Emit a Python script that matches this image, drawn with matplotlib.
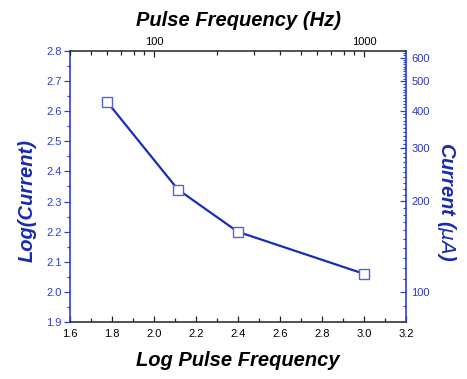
import numpy as np
import matplotlib
matplotlib.use("Agg")
import matplotlib.pyplot as plt
from matplotlib.ticker import FixedLocator, MultipleLocator, NullFormatter, FixedFormatter

# Data
log_freq = [1.778, 2.114, 2.398, 3.000]
log_current = [2.63, 2.34, 2.20, 2.06]

x_ticks = [1.6, 1.8, 2.0, 2.2, 2.4, 2.6, 2.8, 3.0, 3.2]
y_ticks = [1.9, 2.0, 2.1, 2.2, 2.3, 2.4, 2.5, 2.6, 2.7, 2.8]
top_ticks = [100, 1000]
right_ticks = [100, 200, 300, 400, 500, 600]

plt.rcParams['font.family'] = ['Liberation Sans', 'DejaVu Sans']

blue_axis = '#2a3fd8'
blue_label = '#1a2ab0'
line_col = '#1a2db8'
marker_edge = '#5563d8'

fig = plt.figure(figsize=(4.67, 3.79), dpi=100)
ax = fig.add_axes([70/467, 1-322/379, 336/467, 271/379])

ax.plot(log_freq, log_current, color=line_col, lw=1.6, marker='s', ms=6.5,
        mfc='white', mec=marker_edge, mew=1.0, zorder=3)

ax.set_xlim(1.6, 3.2)
ax.set_ylim(1.9, 2.8)
ax.xaxis.set_major_locator(FixedLocator(x_ticks))
ax.xaxis.set_minor_locator(MultipleLocator(0.1))
ax.yaxis.set_major_locator(FixedLocator(y_ticks))
ax.yaxis.set_minor_locator(MultipleLocator(0.05))
ax.set_xticklabels([f"{v:.1f}" for v in x_ticks])
ax.set_yticklabels([f"{v:.1f}" for v in y_ticks])

ax.tick_params(axis='x', which='both', direction='in', top=False, colors='#222222',
               labelsize=8, labelcolor='black', pad=5)
ax.tick_params(axis='x', which='major', length=4, width=0.9)
ax.tick_params(axis='x', which='minor', length=3, width=0.9)
ax.tick_params(axis='y', which='both', direction='out', right=False, colors=blue_axis,
               labelsize=8, labelcolor=blue_axis, pad=2)
ax.tick_params(axis='y', which='major', length=4, width=0.9)
ax.tick_params(axis='y', which='minor', length=2.5, width=0.9)

for s in ['top', 'bottom']:
    ax.spines[s].set_color('#333333')
    ax.spines[s].set_linewidth(1.2)
ax.spines['left'].set_color(blue_axis)
ax.spines['left'].set_linewidth(1.2)
ax.spines['right'].set_color(blue_axis)
ax.spines['right'].set_linewidth(1.2)

lab_kw = dict(fontsize=14.5, fontweight='bold', fontstyle='italic', ha='center', va='center')
ax.set_xlabel('Log Pulse Frequency', color='black', **lab_kw)
ax.xaxis.set_label_coords(0.5, (322-361)/271)
ax.set_ylabel('Log(Current)', color=blue_label, **lab_kw)
ax.yaxis.set_label_coords((27-70)/336, 1-(201-51)/271)

# Top axis: pulse frequency (Hz), log scale
axt = ax.twiny()
axt.set_xscale('log')
axt.set_xlim(10**1.6, 10**3.2)
axt.xaxis.set_major_locator(FixedLocator(top_ticks))
axt.xaxis.set_major_formatter(FixedFormatter([str(v) for v in top_ticks]))
minors_top = [m * d for d in [10, 100] for m in range(2, 10)]
axt.xaxis.set_minor_locator(FixedLocator([v for v in minors_top if 10**1.6 <= v <= 10**3.2]))
axt.xaxis.set_minor_formatter(NullFormatter())
axt.tick_params(axis='x', which='both', direction='in', colors='#222222',
                labelsize=8, labelcolor='black', pad=3)
axt.tick_params(axis='x', which='major', length=4.5, width=0.9)
axt.tick_params(axis='x', which='minor', length=3, width=0.9)
axt.set_xlabel('Pulse Frequency (Hz)', color='black', **lab_kw)
axt.xaxis.set_label_coords(0.5, 1 + (51-21)/271)

# Right axis: current (uA), log scale
axr = ax.twinx()
axr.set_yscale('log')
axr.set_ylim(10**1.9, 10**2.8)
axr.yaxis.set_major_locator(FixedLocator(right_ticks))
axr.yaxis.set_major_formatter(FixedFormatter([str(v) for v in right_ticks]))
minors_r = [v for v in range(80, 640, 10) if v not in right_ticks]
axr.yaxis.set_minor_locator(FixedLocator(minors_r))
axr.yaxis.set_minor_formatter(NullFormatter())
axr.tick_params(axis='y', which='both', direction='in', colors=blue_axis,
                labelsize=8, labelcolor='#2a38c0', pad=4)
axr.tick_params(axis='y', which='major', length=4, width=0.9)
axr.tick_params(axis='y', which='minor', length=2.5, width=0.8)
axr.set_ylabel(r'Current ($\mu A$)', color=blue_label, rotation=270, **lab_kw)
axr.yaxis.set_label_coords((446-70)/336, 1-(202-51)/271)
for a in (axt, axr):
    for s in a.spines.values():
        s.set_visible(False)

fig.savefig('out.png', dpi=100)
